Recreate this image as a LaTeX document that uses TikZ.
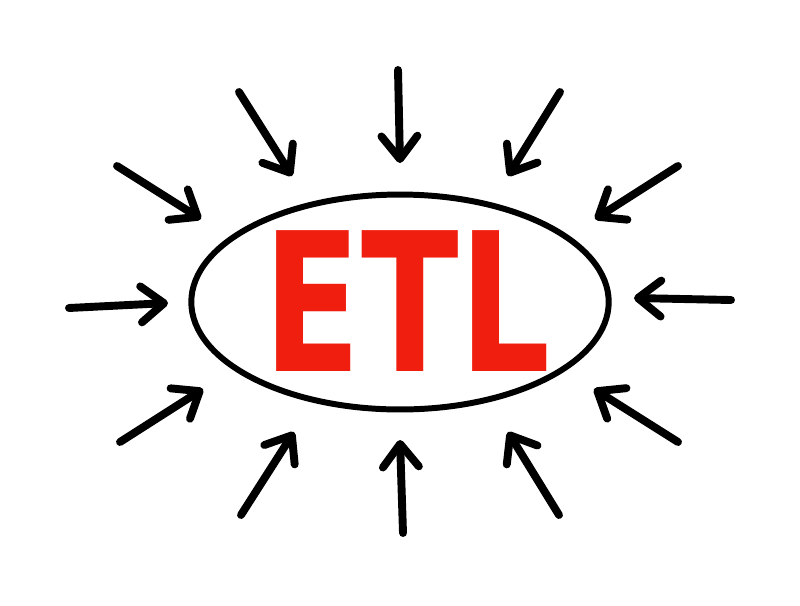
\documentclass[tikz,border=0pt]{standalone}
\usepackage{fontspec}
\usetikzlibrary{arrows.meta,shapes.geometric}
\newfontfamily\etlfont{DejaVu Sans}
\definecolor{etlred}{RGB}{240,30,15}
\newcommand{\px}{0.02cm}

\begin{document}
\begin{tikzpicture}[x=\px, y=-\px,
    pointer/.style={line width=4.5pt, line cap=round, line join=round, -{Straight Barb[length=0.46cm, width=0.72cm, line cap=round, line join=round]}},
    oval/.style={draw, ellipse, line width=3.4pt, minimum width=8.35cm, minimum height=4.3cm, inner sep=0pt},
    word/.style={text=etlred, anchor=base, inner sep=0pt, font=\etlfont\bfseries\fontsize{110}{110}\selectfont, xscale=0.74}]
    \useasboundingbox (0,0) rectangle (800,605);

    % Centre
    \node[oval] (oval) at (400,302) {};
    \node[word] (etl) at (407,371) {ETL};

    % Upper arrows
    \coordinate (a-1-s) at (398,70);  \coordinate (a-1-e) at (400,163);
    \coordinate (a-2-s) at (239,92);  \coordinate (a-2-e) at (292,176);
    \coordinate (a-3-s) at (560,92);  \coordinate (a-3-e) at (508,176);
    \coordinate (a-4-s) at (117,166); \coordinate (a-4-e) at (201,219);
    \coordinate (a-5-s) at (678,166); \coordinate (a-5-e) at (595,219);

    % Side arrows
    \coordinate (a-6-s) at (69,308);  \coordinate (a-6-e) at (168,303);
    \coordinate (a-7-s) at (731,300); \coordinate (a-7-e) at (634,298);

    % Lower arrows
    \coordinate (a-8-s) at (120,442); \coordinate (a-8-e) at (203,389);
    \coordinate (a-9-s) at (678,442); \coordinate (a-9-e) at (594,389);
    \coordinate (a-10-s) at (241,515); \coordinate (a-10-e) at (294,432);
    \coordinate (a-11-s) at (403,533); \coordinate (a-11-e) at (400,440);
    \coordinate (a-12-s) at (559,515); \coordinate (a-12-e) at (508,432);

    \draw[pointer] (a-1-s) -- (a-1-e);
    \draw[pointer] (a-2-s) -- (a-2-e);
    \draw[pointer] (a-3-s) -- (a-3-e);
    \draw[pointer] (a-4-s) -- (a-4-e);
    \draw[pointer] (a-5-s) -- (a-5-e);
    \draw[pointer] (a-6-s) -- (a-6-e);
    \draw[pointer] (a-7-s) -- (a-7-e);
    \draw[pointer] (a-8-s) -- (a-8-e);
    \draw[pointer] (a-9-s) -- (a-9-e);
    \draw[pointer] (a-10-s) -- (a-10-e);
    \draw[pointer] (a-11-s) -- (a-11-e);
    \draw[pointer] (a-12-s) -- (a-12-e);

\end{tikzpicture}
\end{document}
